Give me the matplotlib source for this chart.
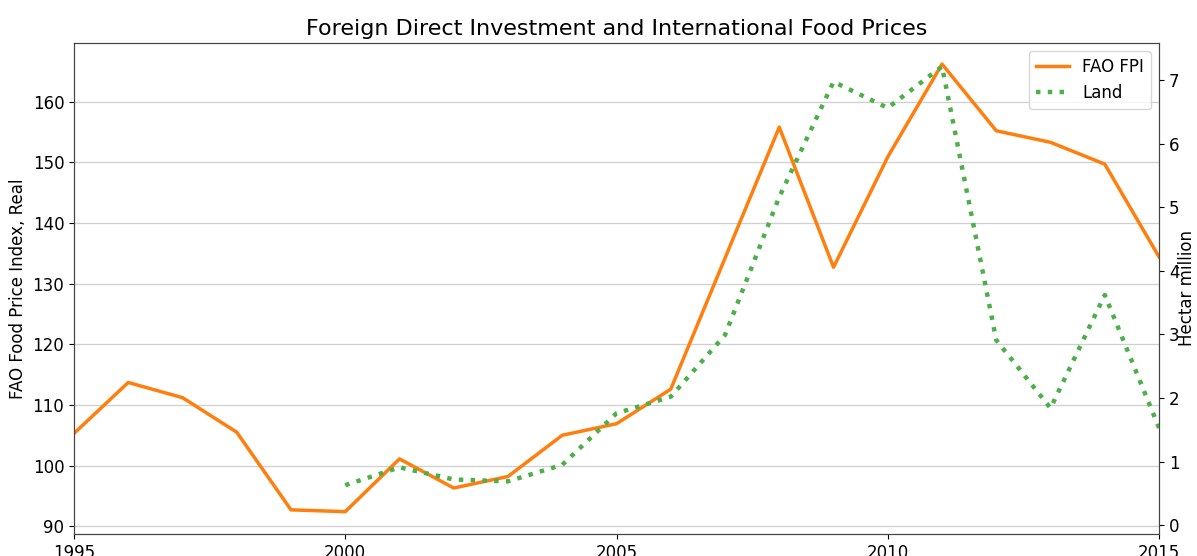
import matplotlib
matplotlib.use("Agg")
import matplotlib.pyplot as plt

years = list(range(1995, 2016))
fao_fpi = [105.3, 113.7, 111.2, 105.5, 92.7, 92.4, 101.1, 96.3, 98.2, 105.0,
           106.9, 112.6, 134.2, 155.8, 132.7, 150.9, 166.2, 155.2, 153.3, 149.7, 134.4]
land_years = list(range(2000, 2016))
land = [0.63, 0.91, 0.72, 0.69, 0.95, 1.76, 2.02, 2.99, 5.16, 6.97,
        6.56, 7.21, 2.91, 1.84, 3.62, 1.53]
xticks = [1995, 2000, 2005, 2010, 2015]

fig = plt.figure(figsize=(11.97, 5.56), dpi=100)
ax = fig.add_axes([0.0618, 0.0396, 0.9065, 0.8831])
ax2 = ax.twinx()

l1, = ax.plot(years, fao_fpi, color='#ff7f0e', lw=2.5, label='FAO FPI')
l2, = ax2.plot(land_years, land, color='#4daf4a', lw=3.2, linestyle=':', label='Land')

ax.set_xlim(1995, 2015)
ax.set_xticks(xticks)
ax.set_xticklabels([str(x) for x in xticks])
ax.set_ylim(88.72, 169.68)
ax.set_yticks([90, 100, 110, 120, 130, 140, 150, 160])
ax2.set_ylim(-0.137, 7.58)
ax2.set_yticks([0, 1, 2, 3, 4, 5, 6, 7])

ax.grid(axis='y', color='#cfcfcf', lw=0.9)
ax.set_axisbelow(True)

ax.tick_params(labelsize=12)
ax2.tick_params(labelsize=12)
ax.set_ylabel('FAO Food Price Index, Real', fontsize=12)
ax2.set_ylabel('Hectar million', fontsize=12, labelpad=-1)
ax.set_title('Foreign Direct Investment and International Food Prices', fontsize=16)

for a in (ax, ax2):
    for s in a.spines.values():
        s.set_color('#444444')

ax2.legend([l1, l2], ['FAO FPI', 'Land'], loc='upper right', fontsize=12)

fig.savefig('out.png', dpi=100)
